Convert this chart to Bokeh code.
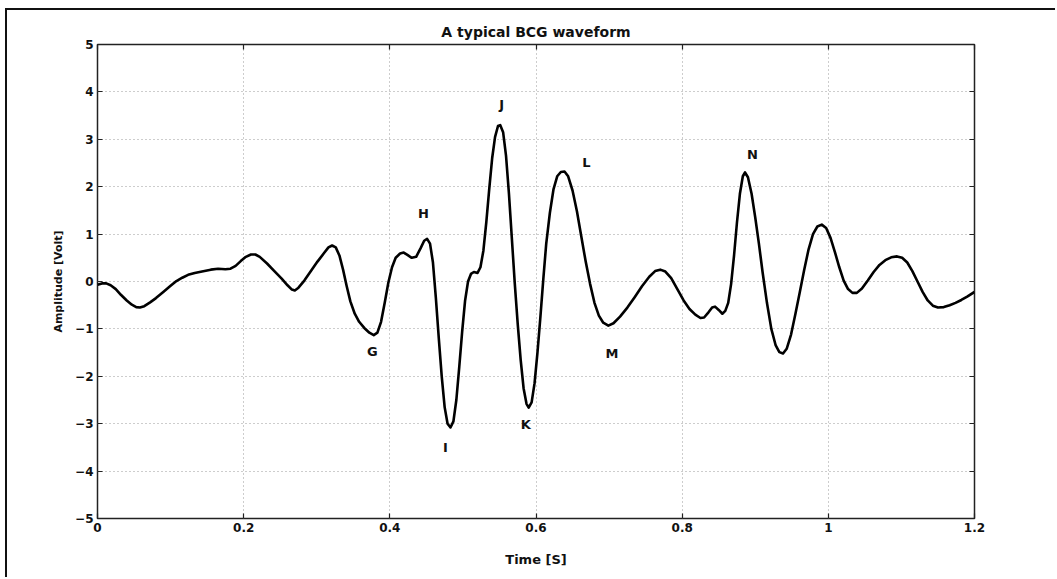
from bokeh.plotting import figure
from bokeh.models import LinearAxis, FixedTicker, ColumnDataSource
from bokeh.core.properties import value
from bokeh.embed import file_html
from bokeh.resources import INLINE

# ---- data ----
time_s = [0.000, 0.006, 0.012, 0.018, 0.025, 0.032, 0.040, 0.047, 0.053, 0.058,
          0.064, 0.072, 0.080, 0.090, 0.100, 0.108, 0.116, 0.124, 0.133, 0.143,
          0.155, 0.165, 0.175, 0.182, 0.189, 0.196, 0.203, 0.210, 0.216, 0.222,
          0.232, 0.242, 0.252, 0.260, 0.266, 0.270, 0.275, 0.283, 0.292, 0.301,
          0.310, 0.316, 0.321, 0.326, 0.331, 0.336, 0.341, 0.346, 0.352, 0.358,
          0.365, 0.372, 0.378, 0.383, 0.388, 0.393, 0.398, 0.403, 0.408, 0.414,
          0.419, 0.424, 0.430, 0.436, 0.442, 0.447, 0.451, 0.455, 0.459, 0.463,
          0.467, 0.471, 0.475, 0.479, 0.483, 0.487, 0.491, 0.495, 0.499, 0.503,
          0.507, 0.511, 0.515, 0.520, 0.524, 0.528, 0.532, 0.536, 0.540, 0.544,
          0.548, 0.551, 0.555, 0.559, 0.563, 0.567, 0.571, 0.575, 0.579, 0.583,
          0.587, 0.590, 0.594, 0.598, 0.602, 0.606, 0.610, 0.614, 0.619, 0.624,
          0.629, 0.634, 0.639, 0.644, 0.650, 0.656, 0.662, 0.668, 0.674, 0.680,
          0.686, 0.692, 0.699, 0.706, 0.715, 0.725, 0.735, 0.745, 0.755, 0.763,
          0.770, 0.777, 0.785, 0.793, 0.802, 0.810, 0.818, 0.825, 0.830, 0.836,
          0.841, 0.845, 0.850, 0.855, 0.859, 0.863, 0.867, 0.871, 0.875, 0.879,
          0.883, 0.886, 0.890, 0.895, 0.900, 0.905, 0.910, 0.916, 0.922, 0.928,
          0.933, 0.938, 0.943, 0.949, 0.955, 0.961, 0.967, 0.973, 0.979, 0.985,
          0.991, 0.997, 1.003, 1.009, 1.015, 1.021, 1.027, 1.033, 1.039, 1.046,
          1.054, 1.062, 1.070, 1.078, 1.086, 1.094, 1.101, 1.108, 1.115, 1.122,
          1.129, 1.136, 1.143, 1.150, 1.158, 1.166, 1.174, 1.182, 1.190, 1.200]
amplitude = [-0.07, -0.04, -0.04, -0.08, -0.16, -0.28, -0.40, -0.49, -0.54, -0.55,
             -0.52, -0.44, -0.35, -0.22, -0.09, 0.01, 0.08, 0.14, 0.18, 0.21,
             0.25, 0.27, 0.26, 0.27, 0.33, 0.43, 0.52, 0.57, 0.57, 0.52,
             0.38, 0.22, 0.06, -0.08, -0.17, -0.19, -0.13, 0.02, 0.22, 0.42,
             0.60, 0.72, 0.76, 0.72, 0.55, 0.25, -0.10, -0.42, -0.68, -0.85,
             -0.98, -1.08, -1.13, -1.08, -0.85, -0.45, -0.02, 0.30, 0.50, 0.59,
             0.61, 0.56, 0.50, 0.52, 0.70, 0.86, 0.90, 0.80, 0.40, -0.35,
             -1.20, -2.00, -2.65, -3.00, -3.08, -2.95, -2.50, -1.80, -1.05, -0.40,
             0.00, 0.16, 0.20, 0.18, 0.30, 0.65, 1.25, 1.95, 2.60, 3.05,
             3.28, 3.30, 3.15, 2.65, 1.85, 0.90, -0.05, -0.90, -1.65, -2.25,
             -2.58, -2.66, -2.55, -2.15, -1.50, -0.75, 0.05, 0.80, 1.45, 1.95,
             2.22, 2.31, 2.32, 2.22, 1.92, 1.48, 0.95, 0.42, -0.05, -0.45,
             -0.72, -0.87, -0.93, -0.88, -0.74, -0.55, -0.33, -0.10, 0.10, 0.22,
             0.25, 0.21, 0.07, -0.15, -0.40, -0.58, -0.70, -0.77, -0.76, -0.65,
             -0.55, -0.53, -0.60, -0.68, -0.62, -0.45, -0.05, 0.55, 1.25, 1.85,
             2.22, 2.30, 2.20, 1.85, 1.35, 0.80, 0.20, -0.45, -1.00, -1.35,
             -1.49, -1.52, -1.42, -1.12, -0.68, -0.22, 0.25, 0.68, 1.00, 1.16,
             1.20, 1.13, 0.92, 0.62, 0.30, 0.02, -0.16, -0.24, -0.24, -0.15,
             0.02, 0.20, 0.35, 0.45, 0.51, 0.53, 0.50, 0.40, 0.22, 0.00,
             -0.22, -0.40, -0.51, -0.55, -0.54, -0.50, -0.45, -0.39, -0.32, -0.22]

wave_names = ["G", "H", "I", "J", "K", "L", "M", "N"]
wave_t = [0.376, 0.446, 0.476, 0.553, 0.586, 0.669, 0.704, 0.896]
wave_y = [-1.48, 1.43, -3.50, 3.73, -3.02, 2.51, -1.52, 2.68]

x_ticks = [0, 0.2, 0.4, 0.6, 0.8, 1, 1.2]
x_tick_labels = ["0", "0.2", "0.4", "0.6", "0.8", "1", "1.2"]
y_ticks = [-5, -4, -3, -2, -1, 0, 1, 2, 3, 4, 5]
y_tick_labels = ["\u22125", "\u22124", "\u22123", "\u22122", "\u22121", "0", "1", "2", "3", "4", "5"]

FONT = "DejaVu Sans"

p = figure(width=1050, height=569, x_range=(0, 1.2), y_range=(-5, 5),
           output_backend="svg", toolbar_location=None,
           min_border_left=90, min_border_right=83, min_border_top=34, min_border_bottom=61,
           title="A typical BCG waveform")
p.margin = (8, 0, 0, 5)
p.styles = {"border-left": "2px solid #111", "border-top": "2px solid #111"}

p.title.align = "center"
p.title.text_font = FONT
p.title.text_font_size = "14px"
p.title.text_font_style = "bold"
p.title.text_color = "#111"
p.title.standoff = 10

p.outline_line_color = "#222"
p.outline_line_width = 1.5
p.background_fill_color = "white"
p.border_fill_color = "white"

def style_axis(ax, ticks, labels):
    ax.ticker = FixedTicker(ticks=ticks)
    ax.major_tick_in = 5
    ax.major_tick_out = 0
    ax.minor_tick_line_color = None
    ax.axis_line_color = None
    ax.major_tick_line_color = "#222"
    ax.major_tick_line_width = 1.2
    ax.major_label_text_font = FONT
    ax.major_label_text_font_style = "bold"
    ax.major_label_text_font_size = "12px"
    ax.major_label_text_color = "#111"
    ax.major_label_overrides = {t: l for t, l in zip(ticks, labels)}

style_axis(p.xaxis[0], x_ticks, x_tick_labels)
style_axis(p.yaxis[0], y_ticks, y_tick_labels)
p.xaxis.major_label_standoff = 4
p.yaxis.major_label_standoff = 4

p.xaxis.axis_label = "Time [S]"
p.yaxis.axis_label = "Amplitude [Volt]"
for ax in (p.xaxis[0], p.yaxis[0]):
    ax.axis_label_text_font = FONT
    ax.axis_label_text_font_style = "bold"
    ax.axis_label_text_color = "#111"
p.xaxis.axis_label_text_font_size = "13px"
p.yaxis.axis_label_text_font_size = "11px"
p.xaxis.axis_label_standoff = 17
p.yaxis.axis_label_standoff = 7

top = LinearAxis()
style_axis(top, x_ticks, ["" for _ in x_ticks])
top.major_label_standoff = 0
p.add_layout(top, "above")
right = LinearAxis()
style_axis(right, y_ticks, ["" for _ in y_ticks])
right.major_label_standoff = 0
p.add_layout(right, "right")

p.xgrid.ticker = FixedTicker(ticks=x_ticks)
p.ygrid.ticker = FixedTicker(ticks=y_ticks)
p.grid.grid_line_color = "#9a9a9a"
p.grid.grid_line_dash = "1 3"
p.grid.grid_line_width = 1

p.line(time_s, amplitude, line_color="black", line_width=2.6, line_join="round")

src = ColumnDataSource(dict(x=wave_t, y=wave_y, name=wave_names))
p.text(x="x", y="y", text="name", source=src, text_align="center", text_baseline="middle",
       text_font=value(FONT), text_font_style="bold", text_font_size="13px", text_color="#111")

open("out.html", "w").write(file_html(p, INLINE))
